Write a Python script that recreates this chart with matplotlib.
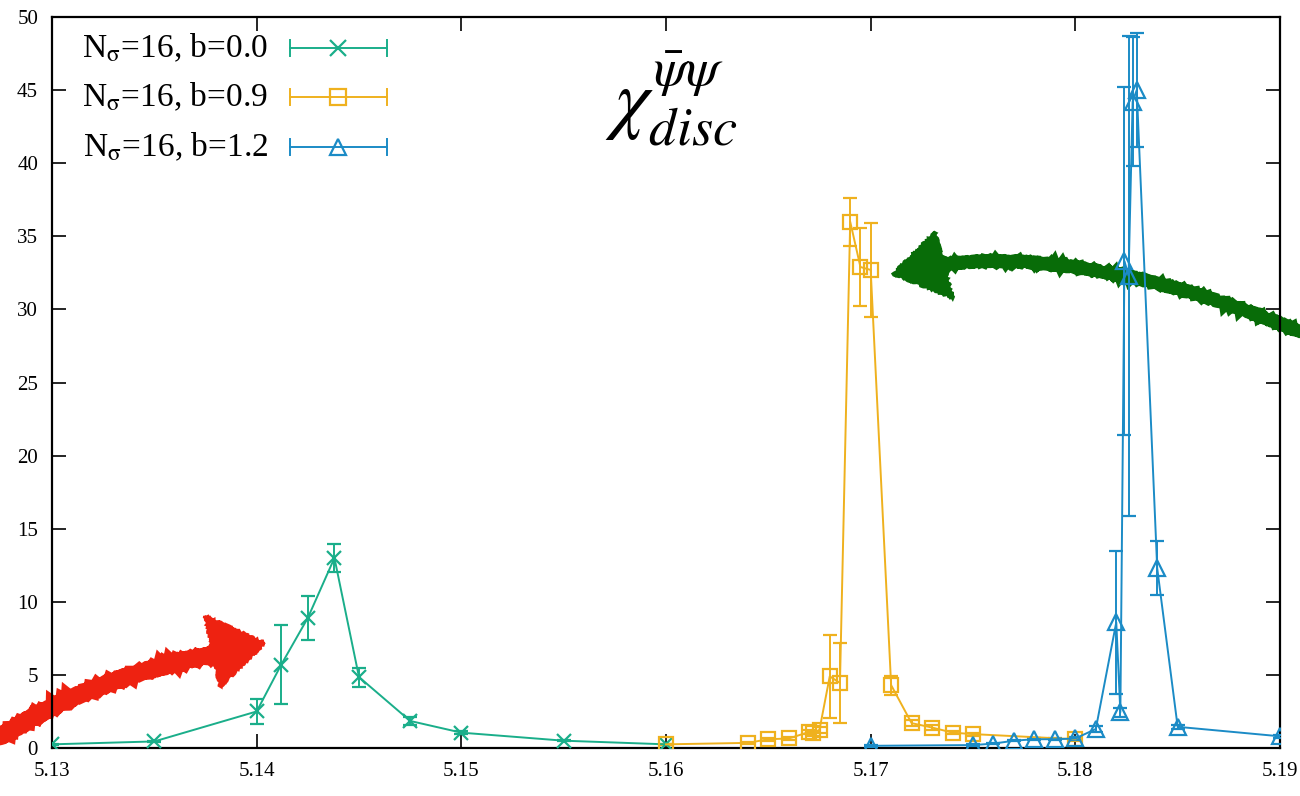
import numpy as np
import matplotlib
matplotlib.use("Agg")
import matplotlib.pyplot as plt
from matplotlib.path import Path
from matplotlib.patches import PathPatch, Polygon

# --- data (beta vs chi_disc) ---
b00_x = [5.130, 5.135, 5.140, 5.1412, 5.1425, 5.1438, 5.145, 5.1475, 5.150, 5.155, 5.160]
b00_y = [0.25, 0.45, 2.5, 5.7, 8.9, 13.0, 4.85, 1.85, 1.05, 0.5, 0.25]
b00_err = [0.05, 0.05, 0.85, 2.7, 1.5, 0.95, 0.65, 0.25, 0.1, 0.05, 0.05]

b09_x = [5.160, 5.164, 5.165, 5.166, 5.167, 5.1672, 5.1675, 5.168, 5.1685,
         5.169, 5.1695, 5.170, 5.171, 5.172, 5.173, 5.174, 5.175, 5.180]
b09_y = [0.25, 0.35, 0.6, 0.65, 1.1, 1.0, 1.25, 4.9, 4.45,
         36.0, 32.9, 32.7, 4.3, 1.7, 1.4, 1.05, 0.95, 0.6]
b09_err = [0.05, 0.05, 0.1, 0.1, 0.15, 0.15, 0.2, 2.85, 2.75,
           1.65, 2.65, 3.2, 0.65, 0.2, 0.15, 0.1, 0.1, 0.1]

b12_x = [5.170, 5.175, 5.176, 5.177, 5.178, 5.179, 5.180, 5.181, 5.182,
         5.1822, 5.1824, 5.1826, 5.1828, 5.183, 5.184, 5.185, 5.190]
b12_y = [0.15, 0.2, 0.3, 0.5, 0.6, 0.6, 0.65, 1.3, 8.6,
         2.45, 33.3, 32.3, 44.2, 45.0, 12.3, 1.45, 0.8]
b12_err = [0.05, 0.05, 0.05, 0.05, 0.05, 0.05, 0.1, 0.2, 4.9,
           0.3, 11.9, 16.4, 4.4, 3.9, 1.85, 0.15, 0.1]

labels = [r'N$_{\mathrm{\sigma}}$=16, b=0.0',
          r'N$_{\mathrm{\sigma}}$=16, b=0.9',
          r'N$_{\mathrm{\sigma}}$=16, b=1.2']
colors = ['#1aae8a', '#efb11e', '#1b8bc6']
markers = ['x', 's', '^']

xticks = [5.13, 5.14, 5.15, 5.16, 5.17, 5.18, 5.19]
yticks = [0, 5, 10, 15, 20, 25, 30, 35, 40, 45, 50]

plt.rcParams['font.family'] = ['Liberation Serif', 'DejaVu Serif']
plt.rcParams['mathtext.fontset'] = 'stix'

W, H = 1300, 796
fig = plt.figure(figsize=(W / 100, H / 100), dpi=100)
ax = fig.add_axes([52 / W, 48 / H, 1228 / W, 731 / H])


def px(pts):
    # pixel coords (from top-left) -> figure fraction
    return [(x / W, 1 - y / H) for x, y in pts]


series = [(b00_x, b00_y, b00_err), (b09_x, b09_y, b09_err), (b12_x, b12_y, b12_err)]
for (xs, ys, es), col, mk in zip(series, colors, markers):
    ax.errorbar(xs, ys, yerr=es, color=col, marker=mk, ms=10 if mk != '^' else 11,
                mfc='none', mec=col, mew=1.6, lw=1.4, elinewidth=1.4,
                capsize=5, capthick=1.4, zorder=3)

ax.set_xticks(xticks)
ax.set_xticklabels(['%.2f' % t for t in xticks])
ax.set_yticks(yticks)
ax.tick_params(direction='in', length=10, width=1.2, top=True, right=True,
               labelsize=15, pad=10)
for sp in ax.spines.values():
    sp.set_linewidth(1.6)

# legend drawn gnuplot-style (horizontal bar with caps)
rows = [0.958, 0.891, 0.822]
x0, x1, xm = 0.194, 0.273, 0.233
capd = 0.011
for yr, lab, col, mk in zip(rows, labels, colors, markers):
    ax.text(0.176, yr, lab, transform=ax.transAxes, ha='right', va='center',
            fontsize=24)
    ax.plot([x0, x1], [yr, yr], transform=ax.transAxes, color=col, lw=1.4, clip_on=False)
    for xc in (x0, x1):
        ax.plot([xc, xc], [yr - capd, yr + capd], transform=ax.transAxes,
                color=col, lw=1.4, clip_on=False)
    ax.plot([xm], [yr], transform=ax.transAxes, marker=mk, ms=12, mfc='none',
            mec=col, mew=1.6, clip_on=False)

ax.text(0.504, 0.888, r'$\chi^{\bar{\psi}\psi}_{disc}$', transform=ax.transAxes,
        ha='center', va='center', fontsize=56)

# hand-drawn style arrows
sk = dict(scale=1.0, length=4, randomness=8)
red = '#ee2211'
red_shaft = Path(px([(0, 737), (95, 675), (218, 654)]),
                 [Path.MOVETO, Path.CURVE3, Path.CURVE3])
p = PathPatch(red_shaft, fill=False, ec=red, lw=12, capstyle='round',
              transform=fig.transFigure, clip_on=False, zorder=1.5)
p.set_sketch_params(**sk)
ax.add_patch(p)
h = Polygon(px([(205, 616), (220, 687), (265, 643)]), closed=True, fc=red, ec=red,
            lw=2, transform=fig.transFigure, clip_on=False, zorder=1.5)
h.set_sketch_params(**sk)
ax.add_patch(h)

green = '#086c08'
green_shaft = Path(px([(1300, 332), (1180, 280), (1040, 250), (940, 265)]),
                   [Path.MOVETO, Path.CURVE4, Path.CURVE4, Path.CURVE4])
p = PathPatch(green_shaft, fill=False, ec=green, lw=9, capstyle='round',
              transform=fig.transFigure, clip_on=False, zorder=1.5)
p.set_sketch_params(**sk)
ax.add_patch(p)
h = Polygon(px([(935, 232), (893, 274), (953, 298)]), closed=True, fc=green, ec=green,
            lw=2, transform=fig.transFigure, clip_on=False, zorder=1.5)
h.set_sketch_params(**sk)
ax.add_patch(h)

ax.set_xlim(5.13, 5.19)
ax.set_ylim(0, 50)

fig.savefig('out.png', dpi=100)
